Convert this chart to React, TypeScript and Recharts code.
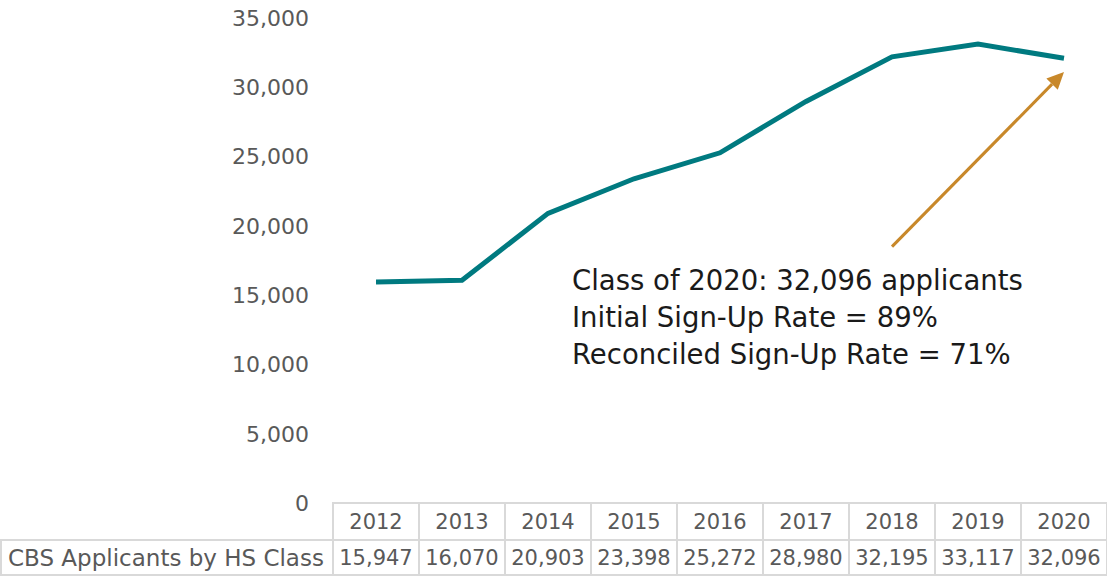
import React from "react";
import {
  CartesianGrid,
  Customized,
  Line,
  LineChart,
  ReferenceLine,
  XAxis,
  YAxis,
} from "recharts";

const years = ["2012", "2013", "2014", "2015", "2016", "2017", "2018", "2019", "2020"];
const applicants = [15947, 16070, 20903, 23398, 25272, 28980, 32195, 33117, 32096];
const yTicks = [0, 5000, 10000, 15000, 20000, 25000, 30000, 35000];
const rowLabel = "CBS Applicants by HS Class";
const noteLines = [
  "Class of 2020: 32,096 applicants",
  "Initial Sign-Up Rate = 89%",
  "Reconciled Sign-Up Rate = 71%",
];
const arrowFrom = { x: "2018", y: 18500 };
const arrowTo = { x: "2020", y: 31100 };

const data = years.map((year, i) => ({ year, applicants: applicants[i] }));

const FONT = "'Century Gothic', 'DejaVu Sans', sans-serif";
const GREY = "#595959";
const BORDER = "#d9d9d9";
const COL_W = 86;
const HEAD_H = 37;
const ROW_H = 35;

const fmt = (v: number) => v.toLocaleString("en-US");

function TableTick(props: any) {
  const { x, y, payload, index } = props;
  const half = COL_W / 2;
  return (
    <g fontFamily={FONT} fontSize={21} fill={GREY}>
      <rect x={x - half} y={y} width={COL_W} height={HEAD_H} fill="none" stroke={BORDER} strokeWidth={2} />
      <text x={x} y={y + HEAD_H / 2} textAnchor="middle" dominantBaseline="central">
        {payload.value}
      </text>
      <rect x={x - half} y={y + HEAD_H} width={COL_W} height={ROW_H} fill="none" stroke={BORDER} strokeWidth={2} />
      <text x={x} y={y + HEAD_H + ROW_H / 2} textAnchor="middle" dominantBaseline="central">
        {fmt(applicants[index])}
      </text>
      {index === 0 && (
        <g>
          <rect x={1} y={y + HEAD_H} width={x - half - 1} height={ROW_H} fill="none" stroke={BORDER} strokeWidth={2} />
          <text x={8} y={y + HEAD_H + ROW_H / 2} dominantBaseline="central" fontSize={23}>
            {rowLabel}
          </text>
        </g>
      )}
    </g>
  );
}

function Arrow(props: any) {
  const { x1, y1, x2, y2 } = props;
  const dx = x2 - x1;
  const dy = y2 - y1;
  const len = Math.sqrt(dx * dx + dy * dy);
  const ux = dx / len;
  const uy = dy / len;
  const head = 17;
  const wing = 8;
  const bx = x2 - ux * head;
  const by = y2 - uy * head;
  return (
    <g>
      <line x1={x1} y1={y1} x2={bx} y2={by} stroke="#c8882a" strokeWidth={3} />
      <polygon
        points={`${x2},${y2} ${bx - uy * wing},${by + ux * wing} ${bx + uy * wing},${by - ux * wing}`}
        fill="#c8882a"
      />
    </g>
  );
}

function Note() {
  return (
    <g fontFamily={FONT} fontSize={27.5} fill="#1a1a1a">
      {noteLines.map((t, i) => (
        <text key={t} x={572} y={290 + i * 37}>
          {t}
        </text>
      ))}
    </g>
  );
}

export default function App() {
  return (
    <div style={{ position: "absolute", left: 0, top: 0 }}>
      <LineChart
        width={1107}
        height={576}
        data={data}
        margin={{ top: 18, right: 0, bottom: 0, left: 0 }}
      >
        <CartesianGrid stroke="none" />
        <XAxis
          dataKey="year"
          height={73}
          axisLine={false}
          tickLine={false}
          tickSize={0}
          tickMargin={0}
          interval={0}
          padding={{ left: COL_W / 2, right: COL_W / 2 }}
          tick={<TableTick />}
        />
        <YAxis
          width={333}
          domain={[0, 35000]}
          ticks={yTicks}
          tickFormatter={fmt}
          axisLine={false}
          tickLine={false}
          tickSize={0}
          tickMargin={24}
          tick={{ fill: GREY, fontSize: 22, fontFamily: FONT }}
        />
        <Line
          type="linear"
          dataKey="applicants"
          stroke="#007a80"
          strokeWidth={5}
          dot={false}
          isAnimationActive={false}
        />
        <ReferenceLine segment={[arrowFrom, arrowTo]} shape={<Arrow />} />
        <Customized component={<Note />} />
      </LineChart>
    </div>
  );
}
